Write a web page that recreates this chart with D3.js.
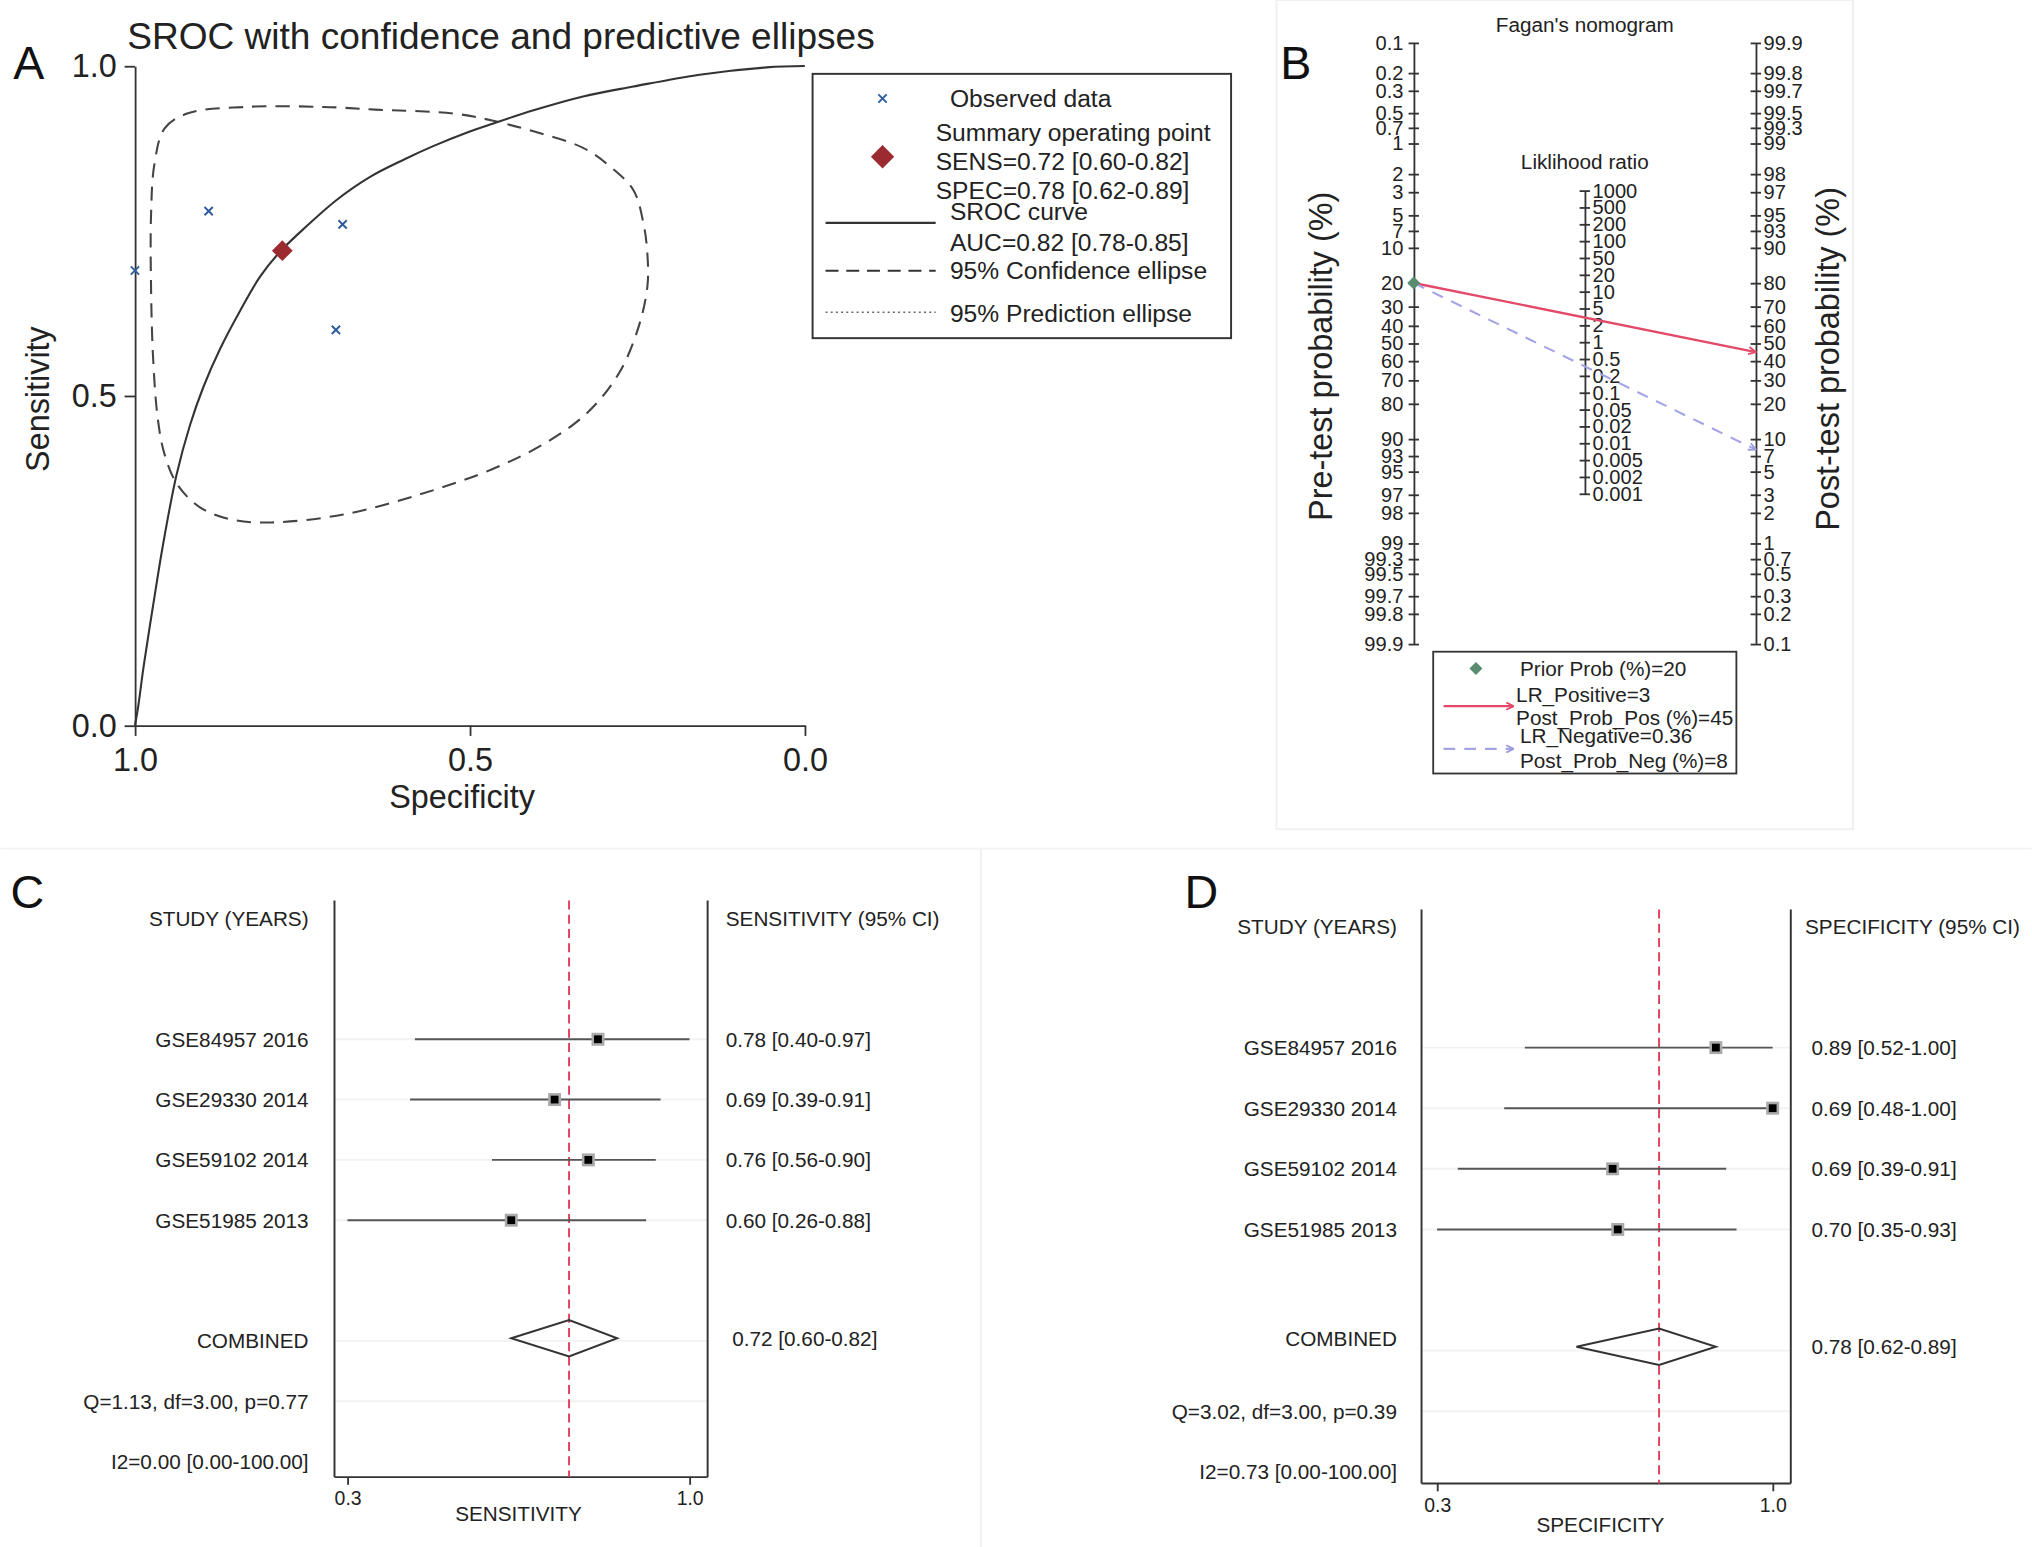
<!DOCTYPE html>
<html>
<head>
<meta charset="utf-8">
<script src="https://cdn.jsdelivr.net/npm/d3@7"></script>
<style>
  html, body { margin: 0; padding: 0; background: #fff; }
  svg { display: block; font-family: "Liberation Sans", Arial, Helvetica, sans-serif; }
  .axis path, .axis line { stroke: #333; stroke-width: 1.4; }
  .axis text { fill: #222; }
</style>
</head>
<body>
<svg id="fig"></svg>
<script>
// ---- data: panel A (SROC) ----
const studies = ["GSE84957 2016", "GSE29330 2014", "GSE59102 2014", "GSE51985 2013"];
const obsSens = [0.78, 0.69, 0.76, 0.60];
const obsSpec = [0.89, 1.00, 0.69, 0.70];
const summarySens = 0.72;
const summarySpec = 0.78;
// SROC curve (specificity, sensitivity)
const srocSpec = [1.0, 0.995, 0.987, 0.972, 0.958, 0.938, 0.918, 0.898, 0.873, 0.843, 0.813, 0.783, 0.744, 0.699, 0.649, 0.599, 0.554, 0.505, 0.465, 0.405, 0.331, 0.256, 0.157, 0.057, 0.0];
const srocSens = [0.0, 0.03, 0.09, 0.188, 0.275, 0.380, 0.455, 0.513, 0.571, 0.629, 0.681, 0.719, 0.757, 0.797, 0.832, 0.858, 0.879, 0.899, 0.913, 0.933, 0.954, 0.969, 0.987, 0.998, 1.0];
// 95% confidence region outline
const ellSpec = [0.971, 0.956, 0.922, 0.835, 0.718, 0.641, 0.524, 0.465, 0.405, 0.331, 0.291, 0.256, 0.241, 0.235, 0.235, 0.248, 0.277, 0.325, 0.388, 0.466, 0.573, 0.689, 0.796, 0.854, 0.903, 0.937, 0.956, 0.966, 0.973, 0.976, 0.976];
const ellSens = [0.851, 0.905, 0.928, 0.938, 0.938, 0.934, 0.928, 0.917, 0.901, 0.876, 0.848, 0.812, 0.762, 0.715, 0.666, 0.605, 0.535, 0.474, 0.428, 0.389, 0.351, 0.320, 0.308, 0.312, 0.331, 0.366, 0.412, 0.466, 0.559, 0.666, 0.774];
const axisTicksA = [1.0, 0.5, 0.0];
const legendA = [
  ["Observed data"],
  ["Summary operating point", "SENS=0.72 [0.60-0.82]", "SPEC=0.78 [0.62-0.89]"],
  ["SROC curve", "AUC=0.82 [0.78-0.85]"],
  ["95% Confidence ellipse"],
  ["95% Prediction ellipse"]
];

// ---- data: panel B (Fagan) ----
const probTicks = [0.1, 0.2, 0.3, 0.5, 0.7, 1, 2, 3, 5, 7, 10, 20, 30, 40, 50, 60, 70, 80, 90, 93, 95, 97, 98, 99, 99.3, 99.5, 99.7, 99.8, 99.9];
const lrTickLabels = ["1000", "500", "200", "100", "50", "20", "10", "5", "2", "1", "0.5", "0.2", "0.1", "0.05", "0.02", "0.01", "0.005", "0.002", "0.001"];
const priorProb = 20;
const lrPositive = 3;
const postProbPos = 45;
const lrNegative = 0.36;
const postProbNeg = 8;

// ---- data: panels C and D (forest plots) ----
const sensEst = [0.78, 0.69, 0.76, 0.60];
const sensLo = [0.40, 0.39, 0.56, 0.26];
const sensHi = [0.97, 0.91, 0.90, 0.88];
const sensPooled = [0.72, 0.60, 0.82];
const sensText = ["0.78 [0.40-0.97]", "0.69 [0.39-0.91]", "0.76 [0.56-0.90]", "0.60 [0.26-0.88]", "0.72 [0.60-0.82]"];
const sensStats = ["Q=1.13, df=3.00, p=0.77", "I2=0.00 [0.00-100.00]"];
const sensTicks = [0.26, 0.97];
const sensTickLabels = ["0.3", "1.0"];

const specEst = [0.89, 1.00, 0.69, 0.70];
const specLo = [0.52, 0.48, 0.39, 0.35];
const specHi = [1.00, 1.00, 0.91, 0.93];
const specPooled = [0.78, 0.62, 0.89];
const specText = ["0.89 [0.52-1.00]", "0.69 [0.48-1.00]", "0.69 [0.39-0.91]", "0.70 [0.35-0.93]", "0.78 [0.62-0.89]"];
const specStats = ["Q=3.02, df=3.00, p=0.39", "I2=0.73 [0.00-100.00]"];
const specTicks = [0.35, 1.00];
const specTickLabels = ["0.3", "1.0"];

const W = 1568, H = 1194;
const svg = d3.select("#fig")
  .attr("width", 2032)
  .attr("height", 1547)
  .attr("viewBox", `0 0 ${W} ${H}`);

svg.append("rect").attr("width", W).attr("height", H).attr("fill", "#fff");

// faint panel frames
svg.append("rect").attr("x", 985).attr("y", 0).attr("width", 445).attr("height", 640)
  .attr("fill", "none").attr("stroke", "#f0f0f0").attr("stroke-width", 1.5);
svg.append("line").attr("x1", 757).attr("x2", 757).attr("y1", 655).attr("y2", H)
  .attr("stroke", "#f2f2f2").attr("stroke-width", 1.5);
svg.append("line").attr("x1", 0).attr("x2", W).attr("y1", 655).attr("y2", 655)
  .attr("stroke", "#f4f4f4").attr("stroke-width", 1.5);

function panelLetter(t, x, y) {
  svg.append("text").attr("x", x).attr("y", y).attr("font-size", 36).attr("fill", "#111").text(t);
}
function diamondPath(cx, cy, rx, ry) {
  return `M${cx - rx},${cy}L${cx},${cy - ry}L${cx + rx},${cy}L${cx},${cy + ry}Z`;
}
function crossPath(cx, cy, r) {
  return `M${cx - r},${cy - r}L${cx + r},${cy + r}M${cx - r},${cy + r}L${cx + r},${cy - r}`;
}

// ================= Panel A =================
const A = { left: 104, right: 621, top: 51, bottom: 560 };
const xA = d3.scaleLinear().domain([1, 0]).range([A.left, A.right]);
const yA = d3.scaleLinear().domain([0, 1]).range([A.bottom, A.top]);
const gA = svg.append("g");

panelLetter("A", 10, 61);
gA.append("text").attr("x", 98).attr("y", 38).attr("font-size", 28.6).attr("fill", "#222")
  .text("SROC with confidence and predictive ellipses");

gA.append("g").attr("class", "axis")
  .attr("transform", `translate(0,${A.bottom})`)
  .call(d3.axisBottom(xA).tickValues(axisTicksA).tickFormat(d3.format(".1f")).tickSize(8).tickSizeOuter(0).tickPadding(9))
  .attr("font-size", 25).attr("font-family", null);

gA.append("g").attr("class", "axis")
  .attr("transform", `translate(${A.left},0)`)
  .call(d3.axisLeft(yA).tickValues(axisTicksA).tickFormat(d3.format(".1f")).tickSize(8).tickSizeOuter(0).tickPadding(6))
  .attr("font-size", 25).attr("font-family", null);

gA.append("text").attr("x", xA(0.5) - 6).attr("y", 624).attr("text-anchor", "middle")
  .attr("font-size", 25).attr("fill", "#222").text("Specificity");
gA.append("text").attr("transform", "translate(38,308) rotate(-90)").attr("text-anchor", "middle")
  .attr("font-size", 25).attr("fill", "#222").text("Sensitivity");

// confidence ellipse
const ellPts = ellSpec.map((s, i) => [s, ellSens[i]]);
gA.append("path")
  .attr("d", d3.line().x(d => xA(d[0])).y(d => yA(d[1])).curve(d3.curveCatmullRomClosed.alpha(0.5))(ellPts))
  .attr("fill", "none").attr("stroke", "#444").attr("stroke-width", 1.6).attr("stroke-dasharray", "11,7");

// SROC curve
const srocPts = srocSpec.map((s, i) => [s, srocSens[i]]);
gA.append("path")
  .attr("d", d3.line().x(d => xA(d[0])).y(d => yA(d[1])).curve(d3.curveCatmullRom.alpha(0.5))(srocPts))
  .attr("fill", "none").attr("stroke", "#333").attr("stroke-width", 1.6);

// observed points
gA.selectAll(".obs").data(studies).enter().append("path")
  .attr("class", "obs")
  .attr("d", (d, i) => crossPath(xA(obsSpec[i]), yA(obsSens[i]), 3.2))
  .attr("stroke", "#2f5c9c").attr("stroke-width", 1.5).attr("fill", "none");

// summary operating point
gA.append("path")
  .attr("d", diamondPath(xA(summarySpec), yA(summarySens), 8, 8))
  .attr("fill", "#9b2b30");

// legend A
const lgA = gA.append("g");
lgA.append("rect").attr("x", 627).attr("y", 57).attr("width", 323).attr("height", 204)
  .attr("fill", "#fff").attr("stroke", "#333").attr("stroke-width", 1.5);
const lgFont = 19;
function lgText(x, y, t) {
  lgA.append("text").attr("x", x).attr("y", y).attr("dominant-baseline", "central")
    .attr("font-size", lgFont).attr("fill", "#222").text(t);
}
lgA.append("path").attr("d", crossPath(681, 76, 3.2)).attr("stroke", "#2f5c9c").attr("stroke-width", 1.5);
lgText(733, 76, legendA[0][0]);
lgA.append("path").attr("d", diamondPath(681, 121, 9, 9)).attr("fill", "#9b2b30");
lgText(722, 102, legendA[1][0]);
lgText(722, 125, legendA[1][1]);
lgText(722, 147, legendA[1][2]);
lgA.append("line").attr("x1", 637).attr("x2", 722).attr("y1", 172).attr("y2", 172)
  .attr("stroke", "#333").attr("stroke-width", 1.6);
lgText(733, 163, legendA[2][0]);
lgText(733, 187, legendA[2][1]);
lgA.append("line").attr("x1", 637).attr("x2", 722).attr("y1", 209).attr("y2", 209)
  .attr("stroke", "#333").attr("stroke-width", 1.6).attr("stroke-dasharray", "10,6");
lgText(733, 209, legendA[3][0]);
lgA.append("line").attr("x1", 637).attr("x2", 722).attr("y1", 241).attr("y2", 241)
  .attr("stroke", "#666").attr("stroke-width", 1.2).attr("stroke-dasharray", "1.5,2.5");
lgText(733, 242, legendA[4][0]);

// ================= Panel B =================
const B = { preX: 1091, postX: 1355, lrX: 1223, top: 33, bottom: 497, lrTop: 147, lrBottom: 381 };
const logit = p => Math.log(p / (100 - p));
const yPre = d3.scaleLinear().domain([logit(0.1), logit(99.9)]).range([B.top, B.bottom]);
const yPost = d3.scaleLinear().domain([logit(99.9), logit(0.1)]).range([B.top, B.bottom]);
const yLR = d3.scalePoint().domain(lrTickLabels).range([B.lrTop, B.lrBottom]);
const gB = svg.append("g");
const tickFontB = 15.5;

panelLetter("B", 988, 61);
gB.append("text").attr("x", 1223).attr("y", 19).attr("text-anchor", "middle").attr("dominant-baseline", "central")
  .attr("font-size", 16).attr("fill", "#222").text("Fagan's nomogram");
gB.append("text").attr("x", 1223).attr("y", 125).attr("text-anchor", "middle").attr("dominant-baseline", "central")
  .attr("font-size", 16).attr("fill", "#222").text("Liklihood ratio");

const preAxis = gB.append("g").attr("class", "axis")
  .attr("transform", `translate(${B.preX},0)`)
  .call(d3.axisLeft(yPre).tickValues(probTicks.map(logit)).tickFormat((d, i) => String(probTicks[i]))
    .tickSize(4).tickSizeOuter(0).tickPadding(4))
  .attr("font-size", tickFontB).attr("font-family", null);
preAxis.selectAll(".tick line").attr("x2", 4).attr("x1", -4);

const postAxis = gB.append("g").attr("class", "axis")
  .attr("transform", `translate(${B.postX},0)`)
  .call(d3.axisRight(yPost).tickValues(probTicks.map(logit)).tickFormat((d, i) => String(probTicks[i]))
    .tickSize(4).tickSizeOuter(0).tickPadding(2))
  .attr("font-size", tickFontB).attr("font-family", null);
postAxis.selectAll(".tick line").attr("x1", -4).attr("x2", 4);

const lrAxis = gB.append("g").attr("class", "axis")
  .attr("transform", `translate(${B.lrX},0)`)
  .call(d3.axisRight(yLR).tickSize(4).tickSizeOuter(0).tickPadding(2))
  .attr("font-size", tickFontB).attr("font-family", null);
lrAxis.selectAll(".tick line").attr("x1", -4).attr("x2", 4);
lrAxis.select(".domain").attr("stroke-width", 2);

gB.append("text").attr("transform", "translate(1028,275) rotate(-90)").attr("text-anchor", "middle")
  .attr("font-size", 25).attr("fill", "#222").text("Pre-test probability (%)");
gB.append("text").attr("transform", "translate(1419,277) rotate(-90)").attr("text-anchor", "middle")
  .attr("font-size", 25).attr("fill", "#222").text("Post-test probability (%)");

const defs = svg.append("defs");
function arrowMarker(id, color) {
  defs.append("marker").attr("id", id).attr("viewBox", "0 0 10 10").attr("refX", 9).attr("refY", 5)
    .attr("markerWidth", 7).attr("markerHeight", 7).attr("markerUnits", "userSpaceOnUse").attr("orient", "auto")
    .append("path").attr("d", "M1,1L9,5L1,9").attr("fill", "none").attr("stroke", color).attr("stroke-width", 2);
}
arrowMarker("arPos", "#e34a6a");
arrowMarker("arNeg", "#9b9be0");

const posColor = "#e34a6a", negColor = "#a3a3e6";
gB.append("line")
  .attr("x1", B.preX).attr("y1", yPre(logit(priorProb)))
  .attr("x2", B.postX).attr("y2", yPost(logit(postProbPos)))
  .attr("stroke", posColor).attr("stroke-width", 1.8).attr("marker-end", "url(#arPos)");
gB.append("line")
  .attr("x1", B.preX).attr("y1", yPre(logit(priorProb)))
  .attr("x2", B.postX).attr("y2", yPost(logit(postProbNeg)))
  .attr("stroke", negColor).attr("stroke-width", 1.6).attr("stroke-dasharray", "9,7").attr("marker-end", "url(#arNeg)");
gB.append("path").attr("d", diamondPath(B.preX, yPre(logit(priorProb)), 5, 5)).attr("fill", "#5a8c70");

// legend B
const lgB = gB.append("g");
lgB.append("rect").attr("x", 1106).attr("y", 503).attr("width", 234).attr("height", 94)
  .attr("fill", "#fff").attr("stroke", "#333").attr("stroke-width", 1.4);
function lgBText(x, y, t) {
  lgB.append("text").attr("x", x).attr("y", y).attr("dominant-baseline", "central")
    .attr("font-size", 16).attr("fill", "#222").text(t);
}
lgB.append("path").attr("d", diamondPath(1139, 516, 5, 5)).attr("fill", "#5a8c70");
lgBText(1173, 516, `Prior Prob (%)=${priorProb}`);
lgB.append("line").attr("x1", 1114).attr("x2", 1168).attr("y1", 545).attr("y2", 545)
  .attr("stroke", posColor).attr("stroke-width", 1.8).attr("marker-end", "url(#arPos)");
lgBText(1170, 536, `LR_Positive=${lrPositive}`);
lgBText(1170, 554, `Post_Prob_Pos (%)=${postProbPos}`);
lgB.append("line").attr("x1", 1114).attr("x2", 1168).attr("y1", 578).attr("y2", 578)
  .attr("stroke", negColor).attr("stroke-width", 1.6).attr("stroke-dasharray", "9,7").attr("marker-end", "url(#arNeg)");
lgBText(1173, 568, `LR_Negative=${lrNegative}`);
lgBText(1173, 587, `Post_Prob_Neg (%)=${postProbNeg}`);

// ================= Panels C & D =================
function drawForest(cfg) {
  const g = svg.append("g");
  const x = d3.scaleLinear().domain(cfg.ticks).range([cfg.tickX0, cfg.tickX1]);
  // row index: 0 header, 2..5 studies, 7 combined, 8 Q, 9 I2
  const y = d3.scaleLinear().domain([0, 9]).range([cfg.rowY0, cfg.rowY9]);
  const studyRows = studies.map((s, i) => i + 2);

  panelLetter(cfg.letter, cfg.letterX, cfg.letterY);

  // faint row guides
  g.selectAll(".guide").data([2, 3, 4, 5, 7, 8]).enter().append("line")
    .attr("x1", cfg.boxL).attr("x2", cfg.boxR).attr("y1", d => y(d)).attr("y2", d => y(d))
    .attr("stroke", "#f2f2f2").attr("stroke-width", 1.5);

  // frame
  g.append("line").attr("x1", cfg.boxL).attr("x2", cfg.boxL).attr("y1", cfg.boxTop).attr("y2", cfg.boxBottom)
    .attr("stroke", "#333").attr("stroke-width", 1.5);
  g.append("line").attr("x1", cfg.boxR).attr("x2", cfg.boxR).attr("y1", cfg.boxTop).attr("y2", cfg.boxBottom)
    .attr("stroke", "#333").attr("stroke-width", 1.5);
  const ax = g.append("g").attr("class", "axis")
    .attr("transform", `translate(0,${cfg.boxBottom})`)
    .call(d3.axisBottom(x).tickValues(cfg.ticks).tickFormat((d, i) => cfg.tickLabels[i]).tickSize(6).tickSizeOuter(0).tickPadding(5))
    .attr("font-size", 15).attr("font-family", null);
  ax.select(".domain").attr("d", `M${cfg.boxL},0H${cfg.boxR}`);

  g.append("text").attr("x", cfg.axisTitleX).attr("y", cfg.axisTitleY).attr("text-anchor", "middle")
    .attr("dominant-baseline", "central").attr("font-size", 16).attr("fill", "#222").text(cfg.axisTitle);

  // pooled reference line
  g.append("line").attr("x1", x(cfg.pooled[0])).attr("x2", x(cfg.pooled[0]))
    .attr("y1", cfg.boxTop).attr("y2", cfg.boxBottom)
    .attr("stroke", "#e0405e").attr("stroke-width", 1.5).attr("stroke-dasharray", "7,4");

  // CI lines and points
  g.selectAll(".ci").data(studyRows).enter().append("line")
    .attr("x1", (d, i) => x(cfg.lo[i])).attr("x2", (d, i) => x(cfg.hi[i]))
    .attr("y1", d => y(d)).attr("y2", d => y(d))
    .attr("stroke", "#555").attr("stroke-width", 1.5);
  g.selectAll(".ptbg").data(studyRows).enter().append("rect")
    .attr("x", (d, i) => x(cfg.est[i]) - 5).attr("y", d => y(d) - 5)
    .attr("width", 10).attr("height", 10).attr("fill", "#aaa");
  g.selectAll(".pt").data(studyRows).enter().append("rect")
    .attr("x", (d, i) => x(cfg.est[i]) - 3).attr("y", d => y(d) - 3)
    .attr("width", 6).attr("height", 6).attr("fill", "#000");

  // pooled diamond
  const cy = y(7) + cfg.diamondDy;
  g.append("path")
    .attr("d", `M${x(cfg.pooled[1])},${cy}L${x(cfg.pooled[0])},${cy - 14}L${x(cfg.pooled[2])},${cy}L${x(cfg.pooled[0])},${cy + 14}Z`)
    .attr("fill", "none").attr("stroke", "#333").attr("stroke-width", 1.5);

  // text columns
  const lab = (xx, yy, t, anchor) => g.append("text").attr("x", xx).attr("y", yy)
    .attr("text-anchor", anchor).attr("dominant-baseline", "central")
    .attr("font-size", 16).attr("fill", "#222").text(t);
  lab(cfg.labelX, y(0), "STUDY (YEARS)", "end");
  studies.forEach((s, i) => lab(cfg.labelX, y(studyRows[i]), s, "end"));
  lab(cfg.labelX, y(7) + cfg.comboDy, "COMBINED", "end");
  lab(cfg.labelX, y(8), cfg.stats[0], "end");
  lab(cfg.labelX, y(9), cfg.stats[1], "end");
  lab(cfg.headX, y(0), cfg.header, "start");
  cfg.text.slice(0, 4).forEach((t, i) => lab(cfg.valX, y(studyRows[i]), t, "start"));
  lab(cfg.valX + cfg.pooledDx, cy, cfg.text[4], "start");
}

drawForest({
  letter: "C", letterX: 8, letterY: 701,
  ticks: sensTicks, tickLabels: sensTickLabels, tickX0: 268, tickX1: 532,
  est: sensEst, lo: sensLo, hi: sensHi, pooled: sensPooled, text: sensText, stats: sensStats,
  rowY0: 709, rowY9: 1128, boxL: 258, boxR: 546, boxTop: 695, boxBottom: 1140,
  labelX: 238, headX: 560, valX: 560, pooledDx: 5, diamondDy: -2, comboDy: 0,
  header: "SENSITIVITY (95% CI)", axisTitle: "SENSITIVITY", axisTitleX: 400, axisTitleY: 1168
});

drawForest({
  letter: "D", letterX: 914, letterY: 701,
  ticks: specTicks, tickLabels: specTickLabels, tickX0: 1109, tickX1: 1368,
  est: specEst, lo: specLo, hi: specHi, pooled: specPooled, text: specText, stats: specStats,
  rowY0: 715, rowY9: 1136, boxL: 1097, boxR: 1382, boxTop: 702, boxBottom: 1145,
  labelX: 1078, headX: 1393, valX: 1398, pooledDx: 0, diamondDy: -3, comboDy: -9,
  header: "SPECIFICITY (95% CI)", axisTitle: "SPECIFICITY", axisTitleX: 1235, axisTitleY: 1177
});
</script>
</body>
</html>
